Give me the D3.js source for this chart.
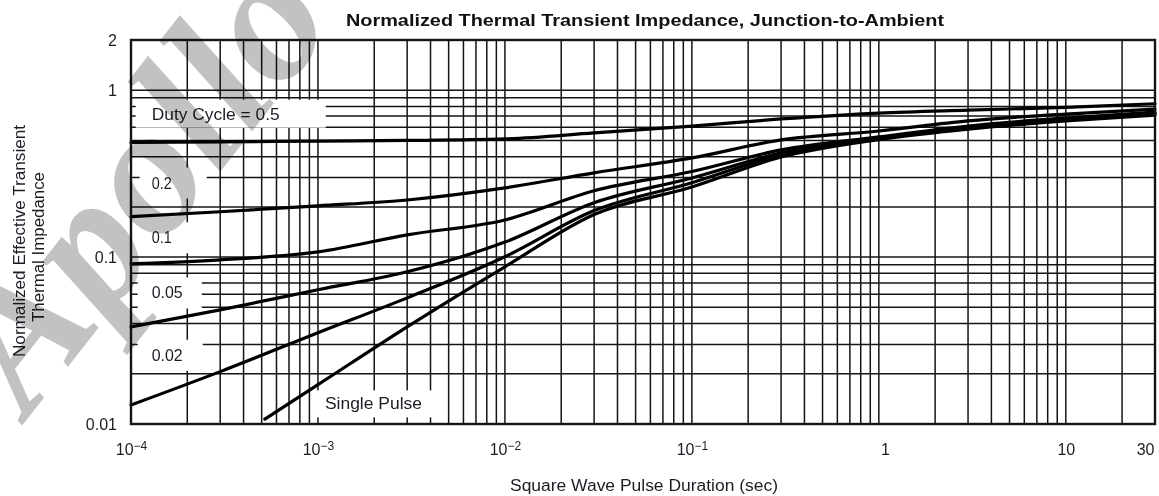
<!DOCTYPE html>
<html>
<head>
<meta charset="utf-8">
<script src="https://cdn.jsdelivr.net/npm/d3@7"></script>
<style>
  html, body { margin: 0; padding: 0; background: #fff; }
  svg { display: block; font-family: "Liberation Sans", Arial, sans-serif; }
</style>
</head>
<body>
<svg id="chart" width="1159" height="496"></svg>
<script>
// Pulse durations (s) at which the duty-cycle curves are sampled
const pulseTimes = [1e-4, 3e-4, 1e-3, 3e-3, 1e-2, 3e-2, 1e-1, 3e-1, 1, 3, 10, 30];
// Normalized transient impedance for each duty cycle
const duty050 = [0.487, 0.490, 0.496, 0.500, 0.511, 0.555, 0.610, 0.673, 0.730, 0.760, 0.790, 0.830];
const duty020 = [0.175, 0.187, 0.203, 0.220, 0.260, 0.320, 0.393, 0.504, 0.570, 0.655, 0.720, 0.770];
const duty010 = [0.0912, 0.0963, 0.1075, 0.136, 0.167, 0.250, 0.326, 0.439, 0.525, 0.610, 0.682, 0.740];
const duty005 = [0.0382, 0.0483, 0.0637, 0.0817, 0.123, 0.212, 0.298, 0.421, 0.518, 0.603, 0.673, 0.730];
const duty002 = [0.0130, 0.0206, 0.0352, 0.0570, 0.1005, 0.190, 0.279, 0.410, 0.510, 0.594, 0.665, 0.720];
// Single pulse curve starts later on the time axis
const singleTimes = [5.2e-4, 1e-3, 3e-3, 1e-2, 3e-2, 1e-1, 3e-1, 1, 3, 10, 30];
const singlePulse = [0.0107, 0.0172, 0.0382, 0.0875, 0.180, 0.263, 0.398, 0.506, 0.585, 0.655, 0.710];

// Axis tick labels
const xTickValues = [1e-4, 1e-3, 1e-2, 1e-1, 1, 10, 30];
const xTickBase = ["10", "10", "10", "10", "1", "10", "30"];
const xTickExp = ["\u22124", "\u22123", "\u22122", "\u22121", "", "", ""];
const yTickValues = [0.01, 0.1, 1, 2];
const yTickLabels = ["0.01", "0.1", "1", "2"];

// Curve captions and where they sit (data units)
const captionTexts = ["Duty Cycle = 0.5", "0.2", "0.1", "0.05", "0.02", "Single Pulse"];
const captionX = [1.29e-4, 1.29e-4, 1.29e-4, 1.29e-4, 1.29e-4, 1.09e-3];
const captionY = [0.721, 0.279, 0.131, 0.0612, 0.0259, 0.01324];

const svg = d3.select("#chart");
const m = { left: 131, right: 1155, top: 40, bottom: 424 };

const x = d3.scaleLog().domain([1e-4, 30]).range([m.left, m.right]);
const y = d3.scaleLog().domain([0.01, 2]).range([m.bottom, m.top]);

const ink = "#141414";
const textInk = "#1c1c24";

// ---- grid ----
const grid = svg.append("g").attr("class", "grid")
  .attr("stroke", ink).attr("stroke-width", 1.5);
const xGrid = x.ticks().filter(d => d > 1e-4 * 1.001 && d < 30 * 0.999);
const yGrid = y.ticks().filter(d => d > 0.01 * 1.001 && d < 2 * 0.999);
grid.selectAll("line.v").data(xGrid).join("line").attr("class", "v")
  .attr("x1", d => x(d)).attr("x2", d => x(d))
  .attr("y1", m.top).attr("y2", m.bottom);
grid.selectAll("line.h").data(yGrid).join("line").attr("class", "h")
  .attr("x1", m.left).attr("x2", m.right)
  .attr("y1", d => y(d)).attr("y2", d => y(d));

// ---- caption boxes (white panels that interrupt the grid) ----
const boxPad = [
  { l: 16, r: 46, t: 7, b: 6 },
  { l: 12, r: 35, t: 8, b: 8 },
  { l: 12, r: 35, t: 8, b: 8 },
  { l: 14, r: 19, t: 8, b: 8 },
  { l: 14, r: 20, t: 8, b: 8 },
  { l: 9,  r: 11, t: 6, b: 6 }
];
const captionWidths = [128, 20, 20, 31, 31, 97];
const boxLayer = svg.append("g");
const capLayer = svg.append("g");

// ---- curves ----
const line = d3.line().x(d => x(d[0])).y(d => y(d[1])).curve(d3.curveMonotoneX);
const series = [duty050, duty020, duty010, duty005, duty002].map(vals => pulseTimes.map((t, i) => [t, vals[i]]));
series.push(singleTimes.map((t, i) => [t, singlePulse[i]]));

captionTexts.forEach((txt, i) => {
  const t = capLayer.append("text")
    .attr("x", x(captionX[i]))
    .attr("y", y(captionY[i]))
    .attr("dy", "0.36em")
    .attr("font-size", 16)
    .attr("fill", textInk)
    .attr("textLength", captionWidths[i]).attr("lengthAdjust", "spacingAndGlyphs")
    .text(txt);
  const bb = t.node().getBBox();
  const p = boxPad[i];
  boxLayer.append("rect")
    .attr("x", bb.x - p.l).attr("y", bb.y - p.t + 1)
    .attr("width", bb.width + p.l + p.r).attr("height", bb.height + p.t + p.b - 2)
    .attr("fill", "#fff");
});

svg.append("g").attr("fill", "none").attr("stroke", "#000").attr("stroke-width", 3.2)
  .attr("stroke-linecap", "round")
  .selectAll("path").data(series).join("path")
  .attr("d", line);

// keep captions above the curves
capLayer.raise();

// ---- frame ----
svg.append("rect")
  .attr("x", m.left).attr("y", m.top)
  .attr("width", m.right - m.left).attr("height", m.bottom - m.top)
  .attr("fill", "none").attr("stroke", ink).attr("stroke-width", 2.4);

// ---- axes ----
const xAxis = d3.axisBottom(x).tickValues(xTickValues).tickSize(0).tickPadding(20).tickFormat(() => "");
const gx = svg.append("g").attr("transform", `translate(0,${m.bottom})`).call(xAxis);
gx.select(".domain").remove();
gx.selectAll(".tick text").each(function (d, i) {
  const t = d3.select(this).attr("font-size", 16).attr("fill", textInk)
    .attr("font-family", "'Liberation Sans', Arial, sans-serif");
  t.append("tspan").text(xTickBase[i]);
  if (xTickExp[i]) t.append("tspan").attr("font-size", 12).attr("dy", "-0.45em").text(xTickExp[i]);
  if (i === xTickValues.length - 1) t.attr("text-anchor", "end").attr("dx", -1);
  if (xTickBase[i] === "1") t.attr("dx", 6);
});

const yAxis = d3.axisLeft(y).tickValues(yTickValues).tickSize(0).tickPadding(14)
  .tickFormat((d, i) => yTickLabels[i]);
const gy = svg.append("g").attr("transform", `translate(${m.left},0)`).call(yAxis);
gy.select(".domain").remove();
gy.selectAll(".tick text").attr("font-size", 16).attr("fill", textInk)
  .attr("font-family", "'Liberation Sans', Arial, sans-serif");

// ---- titles ----
svg.append("text")
  .attr("x", 645).attr("y", 26)
  .attr("text-anchor", "middle")
  .attr("font-size", 16).attr("font-weight", "bold").attr("fill", "#111")
  .attr("textLength", 598).attr("lengthAdjust", "spacingAndGlyphs")
  .text("Normalized Thermal Transient Impedance, Junction-to-Ambient");

svg.append("text")
  .attr("x", 644).attr("y", 491)
  .attr("text-anchor", "middle")
  .attr("font-size", 16).attr("fill", textInk)
  .attr("textLength", 268).attr("lengthAdjust", "spacingAndGlyphs")
  .text("Square Wave Pulse Duration (sec)");

const yTitle = svg.append("text")
  .attr("transform", "translate(0,241) rotate(-90)")
  .attr("text-anchor", "middle")
  .attr("font-size", 16).attr("fill", textInk);
yTitle.append("tspan").attr("x", 0).attr("y", 25)
  .attr("textLength", 232).attr("lengthAdjust", "spacingAndGlyphs")
  .text("Normalized Effective Transient");
yTitle.append("tspan").attr("x", -6).attr("y", 44)
  .attr("textLength", 150).attr("lengthAdjust", "spacingAndGlyphs")
  .text("Thermal Impedance");

// ---- watermark ----
svg.append("text")
  .attr("transform", "translate(28,418) rotate(-52)")
  .attr("font-family", "'Liberation Serif', 'DejaVu Serif', serif")
  .attr("font-style", "italic").attr("font-weight", "bold")
  .attr("font-size", 185)
  .attr("fill", "#c2c2c2")
  .style("mix-blend-mode", "multiply")
  .text("Apollo");
</script>
</body>
</html>
